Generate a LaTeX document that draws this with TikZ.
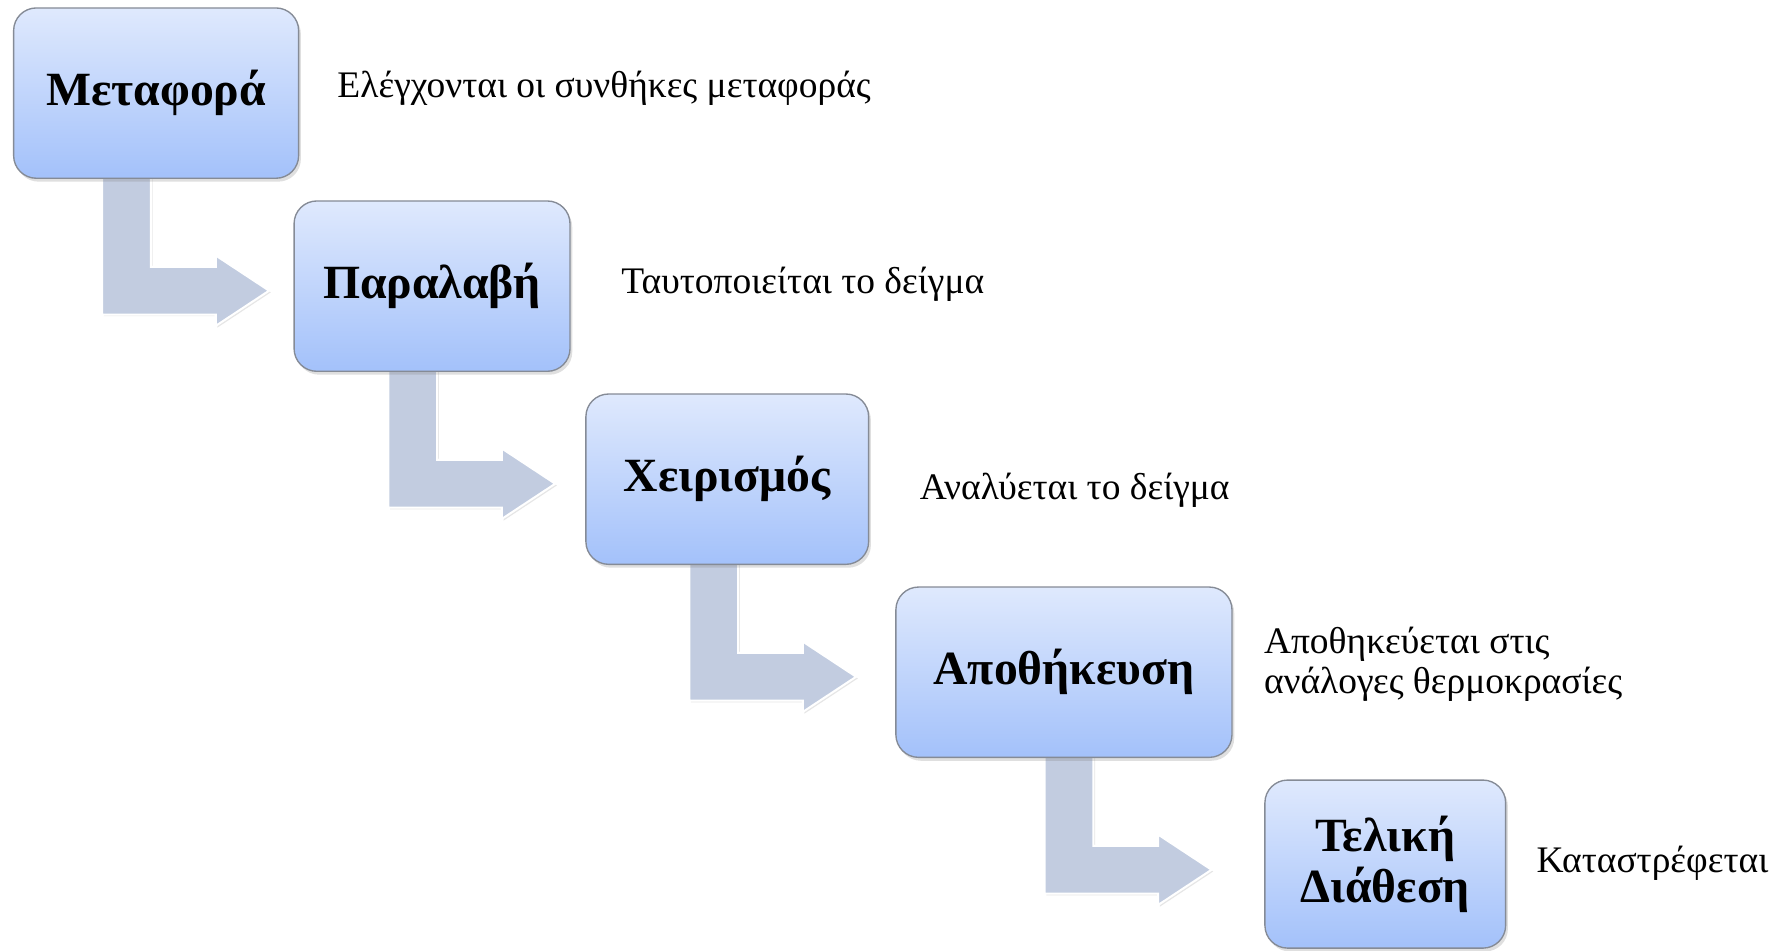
\documentclass[tikz,border=0pt]{standalone}
\usepackage{fontspec}
\setmainfont{Liberation Serif}
\usetikzlibrary{shadows,backgrounds,calc}
\definecolor{boxtop}{HTML}{DFE9FD}
\definecolor{boxbot}{HTML}{A3C1FA}
\definecolor{boxline}{HTML}{858B96}
\definecolor{arrowfill}{HTML}{C2CCE0}
\tikzset{
  stepbox/.style={rectangle, rounded corners=20pt, draw=boxline, line width=1.2pt,
    top color=boxtop, bottom color=boxbot, align=center, inner sep=0pt,
    font=\fontsize{42}{46}\selectfont\bfseries,
    drop shadow={opacity=0.25, shadow xshift=2pt, shadow yshift=-3pt}},
  desc/.style={anchor=west, align=left, inner sep=0pt, font=\fontsize{33}{35}\selectfont},
  bentarrow/.style={fill=arrowfill, draw=white, line width=1.8pt, line join=miter,
    drop shadow={opacity=0.2, shadow xshift=1.5pt, shadow yshift=-1.5pt}}
}
\newcommand{\bentarr}[2]{% #1 = stem top-left x, #2 = stem top y
  \path[bentarrow] (#1,#2) -- ++(43,0) -- ++(0,88) -- ++(57,0) -- ++(0,-10)
    -- ++(47,31) -- ++(-47,31) -- ++(0,-10) -- ++(-100,0) -- cycle;}
\begin{document}
\begin{tikzpicture}[x=1pt,y=-1pt]
\useasboundingbox (0,0) rectangle (1565,837);
% boxes
\node[stepbox, minimum width=251pt, minimum height=150pt] (m1) at (137.5,82) {Μεταφορά};
\node[stepbox, minimum width=243pt, minimum height=150pt] (m2) at (380.5,252) {Παραλαβή};
\node[stepbox, minimum width=249pt, minimum height=150pt] (m3) at (640.5,422) {Χειρισμός};
\node[stepbox, minimum width=296pt, minimum height=150pt] (m4) at (937,592) {Αποθήκευση};
\node[stepbox, minimum width=212pt, minimum height=148pt, font=\fontsize{42}{45}\selectfont\bfseries] (m5) at (1220,761) {Τελική\\Διάθεση};
% descriptions
\node[desc] (d1) at (297,78) {Ελέγχονται οι συνθήκες μεταφοράς};
\node[desc] (d2) at (547,250) {Ταυτοποιείται το δείγμα};
\node[desc] (d3) at (810,432) {Αναλύεται το δείγμα};
\node[desc] (d4) at (1113,585) {Αποθηκεύεται στις\\ανάλογες θερμοκρασίες};
\node[desc] (d5) at (1353,760) {Καταστρέφεται};
% arrows behind boxes
\begin{pgfonlayer}{background}
\bentarr{90}{147}
\bentarr{342}{317}
\bentarr{607}{487}
\bentarr{920}{657}
\end{pgfonlayer}
\end{tikzpicture}
\end{document}
